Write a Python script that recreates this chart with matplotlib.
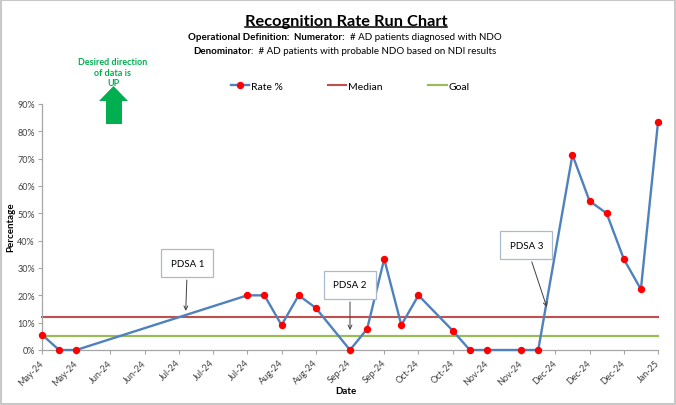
import numpy as np
import matplotlib
matplotlib.use('Agg')
import matplotlib.pyplot as plt
from matplotlib.patches import Polygon, Rectangle
from matplotlib.lines import Line2D

plt.rcParams['font.family'] = ['Lato', 'DejaVu Sans']

# weekly recognition rate (%), None = no data that week (line bridges the gap)
rate = [5.6, 0, 0, None, None, None, None, None, None, None, None, None,
        20, 20, 9.1, 20, 15.4, None, 0, 7.7, 33.3, 9.1, 20, None,
        7.1, 0, 0, None, 0, 0, None, 71.4, 54.5, 50, 33.3, 22.2, 83.3]
goal = 5.0
tick_labels = ['May-24', 'May-24', 'Jun-24', 'Jun-24', 'Jul-24', 'Jul-24', 'Jul-24',
               'Aug-24', 'Aug-24', 'Sep-24', 'Sep-24', 'Oct-24', 'Oct-24',
               'Nov-24', 'Nov-24', 'Dec-24', 'Dec-24', 'Dec-24', 'Jan-25']
y_ticks = [0, 10, 20, 30, 40, 50, 60, 70, 80, 90]

W, H = 676, 406
def fx(px):
    return px / W
def fy(py):
    return 1 - py / H

x = np.arange(len(rate))
y = np.array(rate, dtype=float)
has = ~np.isnan(y)
median = np.nanmedian(y)

fig = plt.figure(figsize=(6.76, 4.06), dpi=100)
ax = fig.add_axes([fx(42), fy(351), fx(658) - fx(42), fy(105) - fy(351)])

ax.axhline(median, color='#C0504D', lw=1.5, label='Median', zorder=2)
ax.axhline(goal, color='#9BBB59', lw=1.6, label='Goal', zorder=2)
ax.plot(x[has], y[has], color='#4F81BD', lw=1.7, marker='o', ms=4.3,
        mfc='#FF0000', mec='#FF0000', label='Rate %', zorder=3)

ax.set_xlim(0, len(rate) - 1)
ax.set_ylim(0, 90)
ax.set_yticks(y_ticks)
ax.set_yticklabels([f'{v}%' for v in y_ticks])
ax.set_xticks(x[::2])
ax.set_xticklabels(tick_labels, rotation=45, ha='right', va='center',
                   rotation_mode='anchor')
ax.tick_params(axis='both', labelsize=6.5, colors='#404040', length=3, width=0.8)
ax.tick_params(axis='x', pad=5, color='#A6A6A6')
ax.tick_params(axis='y', pad=2, color='#A6A6A6')
for s in ['top', 'right']:
    ax.spines[s].set_visible(False)
for s in ['left', 'bottom']:
    ax.spines[s].set_color('#A6A6A6')
    ax.spines[s].set_linewidth(0.9)
ax.spines['bottom'].set_zorder(1)
for ln in ax.lines:
    ln.set_clip_on(False)

# PDSA annotations
box = dict(boxstyle='square,pad=0.95', fc='white', ec='#A9BACD', lw=0.9)
arrow = dict(arrowstyle='->', color='#404040', lw=0.7, shrinkB=0)
ax.annotate('PDSA 1', xy=(8.4, 14.3), xytext=(8.5, 31.8), fontsize=7,
            ha='center', va='center', bbox=box, arrowprops=arrow, zorder=5)
ax.annotate('PDSA 2', xy=(18.0, 7.3), xytext=(18.0, 23.8), fontsize=7,
            ha='center', va='center', bbox=box, arrowprops=arrow, zorder=5)
ax.annotate('PDSA 3', xy=(29.5, 15.7), xytext=(28.3, 38.4), fontsize=7,
            ha='center', va='center', bbox=box, arrowprops=arrow, zorder=5)

fig.text(fx(11), fy(227), 'Percentage', rotation=90, fontsize=7, fontweight='bold',
         ha='center', va='center')
fig.text(fx(346), fy(392), 'Date', fontsize=7, fontweight='bold', ha='center', va='center')

# legend
fig.legend(loc='center', bbox_to_anchor=(fx(350), fy(87)), ncol=3, frameon=False,
           fontsize=7.5, handlelength=1.75, handletextpad=0.15, columnspacing=4.4,
           handles=[ax.lines[2], ax.lines[0], ax.lines[1]])

# desired direction note + arrow
fig.text(fx(113), fy(73), 'Desired direction\nof data is\nUP', color='#00B050',
         fontsize=6.5, fontweight='bold', ha='center', va='center', linespacing=1.15)
up = [(99, 102), (113.5, 87), (128, 102), (122, 102), (122, 125), (106, 125), (106, 102)]
fig.patches.append(Polygon([(fx(a), fy(b)) for a, b in up], closed=True,
                           transform=fig.transFigure, fc='#00B050', ec='none'))

# title and definitions
title = fig.text(fx(346), fy(22), 'Recognition Rate Run Chart', fontsize=11.8,
                 fontweight='bold', ha='center', va='center')
fig.canvas.draw()
r = fig.canvas.get_renderer()

def mixed_line(parts, cy, size=7.0):
    objs = []
    for txt, wt in parts:
        objs.append(fig.text(0, fy(cy), txt, fontsize=size, fontweight=wt,
                             ha='left', va='center'))
    widths = [o.get_window_extent(r).width for o in objs]
    left = 345 - sum(widths) / 2
    for o, w in zip(objs, widths):
        o.set_x(fx(left))
        left += w

mixed_line([('Operational Definition:  ', 'bold'), ('Numerator:  ', 'bold'),
            ('# AD patients diagnosed with NDO', 'normal')], 38)
mixed_line([('Denominator', 'bold'), (':  # AD patients with probable NDO based on NDI results', 'normal')], 52)

bb = title.get_window_extent(r)
fig.lines.append(Line2D([bb.x0 / W, bb.x1 / W], [(bb.y0 + 1) / H, (bb.y0 + 1) / H],
                        transform=fig.transFigure, color='black', lw=1.1))

fig.patches.append(Rectangle((0.0015, 0.0025), 0.997, 0.995, transform=fig.transFigure,
                             fill=False, ec='#C8C8C8', lw=1.5))

fig.savefig('out.png', dpi=100)
